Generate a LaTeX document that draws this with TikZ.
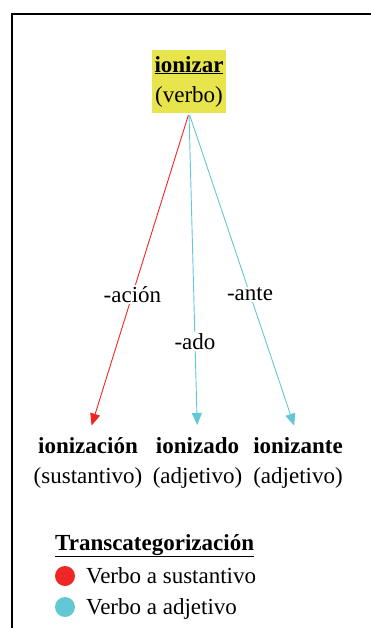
\documentclass[tikz,border=0pt]{standalone}
\usepackage{fontspec}
\setmainfont{Liberation Serif}
\usetikzlibrary{arrows.meta}
\definecolor{boxyellow}{RGB}{232,228,75}
\definecolor{redc}{RGB}{238,38,38}
\definecolor{cyanc}{RGB}{98,200,214}
\tikzset{
  every node/.style={font=\fontsize{23}{30}\selectfont},
  wordbox/.style={align=center, inner sep=0pt, anchor=north},
  suffix/.style={fill=white, inner sep=1pt},
  link/.style={line width=0.9pt, -{Triangle[length=12pt,width=10pt]}, shorten <=2pt, shorten >=12pt},
  legdot/.style={circle, inner sep=0pt, minimum size=20pt},
}
\begin{document}
\begin{tikzpicture}[x=1pt,y=-1pt]
\useasboundingbox (0,0) rectangle (370,628);
\draw[line width=2.2pt] (12,629) -- (12,14) -- (371,14);
\node[fill=boxyellow, align=center, inner xsep=3pt, inner ysep=6pt] (top) at (189,81.5) {\underline{\textbf{ionizar}}\\(verbo)};
\node[wordbox] (n1) at (88,437) {\textbf{ionización}\\(sustantivo)};
\node[wordbox] (n2) at (197.5,437) {\textbf{ionizado}\\(adjetivo)};
\node[wordbox] (n3) at (298,437) {\textbf{ionizante}\\(adjetivo)};
\draw[link, redc] (top.south) -- (n1.north) node[pos=0.56, suffix, text=black] {-ación};
\draw[link, cyanc] (top.south) -- (n2.north) node[pos=0.705, suffix, text=black] {-ado};
\draw[link, cyanc] (top.south) -- (n3.north) node[pos=0.56, suffix, text=black] {-ante};
\node[anchor=base west, inner sep=0pt] (leg) at (55,550) {\underline{\textbf{Transcategorización}}};
\node[legdot, fill=redc] (d1) at (65,576) {};
\node[legdot, fill=cyanc] (d2) at (65,607) {};
\node[anchor=base west, inner sep=0pt] (l1) at (86,583) {Verbo a sustantivo};
\node[anchor=base west, inner sep=0pt] (l2) at (86,614) {Verbo a adjetivo};
\end{tikzpicture}
\end{document}
